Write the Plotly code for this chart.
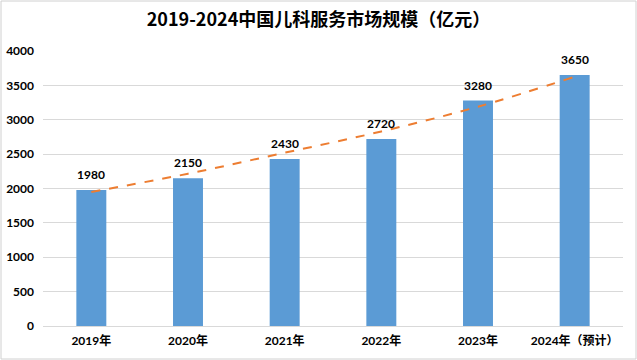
import plotly.graph_objects as go

categories = ["2019年", "2020年", "2021年", "2022年", "2023年", "2024年（预计）"]
values = [1980, 2150, 2430, 2720, 3280, 3650]
trend_values = [1950, 2215, 2520, 2830, 3190, 3625]
y_ticks = [0, 500, 1000, 1500, 2000, 2500, 3000, 3500, 4000]
title_text = "2019-2024中国儿科服务市场规模（亿元）"

FONT = "Lato, 'Noto Sans CJK SC', sans-serif"

fig = go.Figure()
fig.add_trace(go.Bar(
    x=categories, y=values,
    marker=dict(color="#5B9BD5", line=dict(width=0)),
    showlegend=False,
))
fig.add_trace(go.Scatter(
    x=categories, y=trend_values,
    mode="lines",
    line=dict(color="#ED7D31", width=2, dash="dash", shape="spline"),
    showlegend=False,
    hoverinfo="skip",
))

for c, v in zip(categories, values):
    fig.add_annotation(
        x=c, y=v, text=str(v), showarrow=False,
        yanchor="bottom", yshift=6,
        font=dict(family=FONT, size=12, color="#000000", weight="bold"),
    )

W, H = 637, 360
L, R, T, B = 43, 14, 51, 34
pw, ph = W - L - R, H - T - B

fig.update_layout(
    width=W, height=H,
    margin=dict(l=L, r=R, t=T, b=B, autoexpand=False),
    paper_bgcolor="#FFFFFF",
    plot_bgcolor="#FFFFFF",
    bargap=0.69,
    title=dict(
        text=title_text,
        x=0.5, xanchor="center",
        y=1 - 20 / H, yanchor="middle",
        font=dict(family="'Noto Sans CJK SC', sans-serif", size=18, color="#000000", weight="bold"),
    ),
    font=dict(family=FONT, color="#000000"),
    shapes=[dict(
        type="rect", xref="paper", yref="paper",
        x0=-(L - 1) / pw, x1=1 + (R - 1) / pw, y0=-(B - 1) / ph, y1=1 + (T - 1) / ph,
        line=dict(color="#D0D0D0", width=1),
    )],
)
fig.update_xaxes(
    automargin=False,
    showgrid=False,
    showline=True, linecolor="#D9D9D9", linewidth=1,
    ticks="",
    ticklabelstandoff=4,
    tickfont=dict(family=FONT, size=12, color="#000000", weight="bold"),
)
fig.update_yaxes(
    automargin=False,
    range=[0, 4000],
    tickvals=y_ticks,
    showgrid=True, gridcolor="#D9D9D9", gridwidth=1,
    zeroline=False,
    showline=False,
    ticks="",
    ticklabelstandoff=8,
    tickfont=dict(family=FONT, size=12, color="#000000", weight="bold"),
)

fig.write_html(
    "out.html",
    config={"displayModeBar": False},
    post_script="document.body.style.margin='0';document.body.style.overflow='hidden';",
)
